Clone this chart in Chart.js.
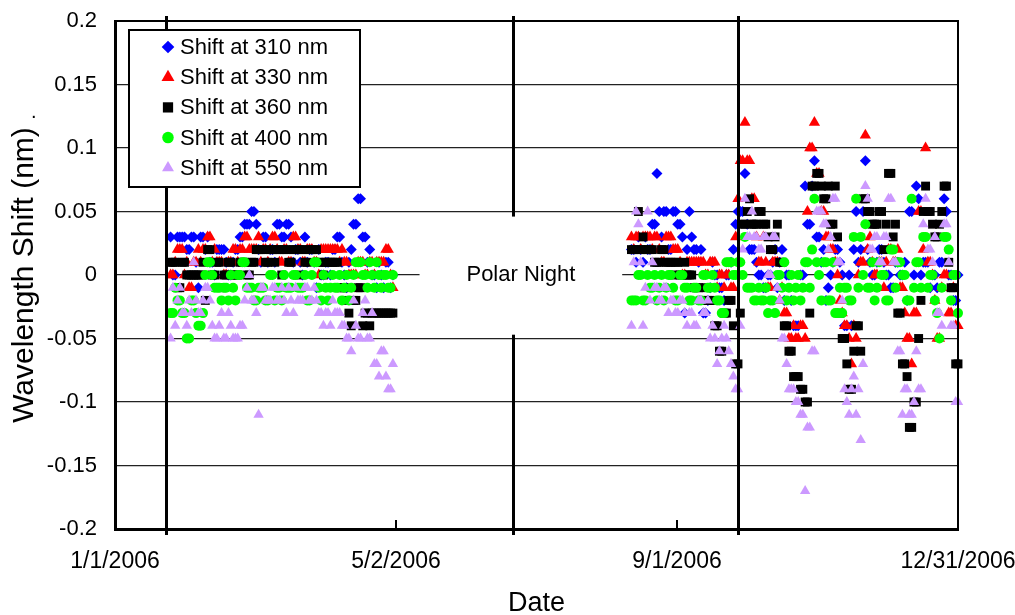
<!DOCTYPE html>
<html><head><meta charset="utf-8">
<script src="https://cdn.jsdelivr.net/npm/chart.js@4/dist/chart.umd.min.js"></script>
<style>html,body{margin:0;padding:0;background:#fff}#wrap{width:1015px;height:615px}</style>
</head><body><div id="wrap"><canvas id="c" width="1015" height="615"></canvas></div>
<script>
// Day of year 2006 (0 = 1/1/2006) -- even days
const days = [24,26,28,30,32,34,36,38,40,42,44,46,48,50,52,54,56,58,60,62,64,66,68,70,72,74,76,78,80,82,84,86,88,90,92,94,96,98,100,102,104,106,108,110,112,114,116,118,120,
224,226,228,230,232,234,236,238,240,242,244,246,248,250,252,254,256,258,260,262,264,266,268,270,272,274,276,278,280,282,284,286,288,290,292,294,296,298,300,302,304,306,308,310,312,314,316,318,320,322,324,326,328,330,332,334,336,338,340,342,344,346,348,350,352,354,356,358,360,362,364];

const shift310 = [0.03,0.00,0.03,0.03,0.02,0.03,-0.01,0.03,0.03,0.01,0.02,0.02,0.01,0.00,0.02,0.03,0.04,0.04,0.05,0.02,0.03,0.01,0.02,0.04,0.03,0.04,0.03,0.02,0.01,0.03,0.02,0.01,0.02,0.00,0.01,0.02,0.03,0.01,-0.01,0.02,0.04,0.06,0.03,0.02,0.00,0.01,-0.01,0.01,0.00,
0.02,0.03,0.01,0.02,0.04,0.08,0.03,0.05,0.02,0.05,0.04,-0.03,0.05,0.02,0.01,-0.03,-0.02,0.01,0.00,-0.01,0.00,0.01,0.04,0.05,0.08,0.02,0.02,0.00,-0.01,0.00,0.01,-0.01,0.02,0.00,-0.02,-0.04,0.00,0.07,0.04,0.09,0.03,0.02,-0.01,0.01,0.02,0.00,-0.04,-0.04,0.05,0.02,0.09,0.01,0.00,0.02,0.01,0.00,-0.01,0.01,0.00,-0.02,0.05,0.07,0.00,0.01,-0.01,0.00,0.01,0.06,0.00,-0.02,0.00];

const shift330 = [0.00,0.01,0.02,0.00,-0.01,0.01,0.02,0.02,0.03,0.01,0.01,0.01,0.00,0.01,0.02,0.02,0.03,0.02,0.02,0.03,0.02,0.01,0.03,0.02,0.01,0.02,0.01,0.03,0.02,0.01,0.02,0.01,0.00,0.02,0.02,0.02,0.02,0.02,0.01,0.00,0.00,0.01,0.00,0.01,0.00,0.01,0.01,0.02,-0.01,
0.02,0.03,0.03,0.03,0.02,0.03,0.01,0.03,0.03,0.02,0.01,0.00,0.01,0.01,0.01,0.01,0.00,0.01,-0.01,0.00,0.00,-0.01,0.03,0.09,0.12,0.09,0.06,0.01,0.03,-0.01,0.01,0.01,-0.01,-0.03,-0.05,-0.05,-0.04,-0.05,0.10,0.12,0.08,0.05,0.03,0.02,0.00,-0.03,-0.04,-0.07,-0.05,0.01,0.11,0.03,0.00,0.01,-0.01,0.02,0.01,0.02,-0.01,-0.05,-0.07,-0.03,0.05,0.10,0.01,-0.02,-0.05,0.00,-0.03,-0.01,-0.04];

const shift360 = [0.01,0.01,-0.01,0.01,0.00,0.00,0.00,0.01,0.02,0.00,0.01,-0.01,0.00,0.01,0.00,0.01,0.01,0.00,0.01,0.02,0.02,0.01,0.02,0.02,0.00,0.02,0.01,0.02,0.02,0.01,0.02,0.02,0.01,0.00,0.01,0.01,0.01,-0.01,-0.02,-0.04,-0.02,-0.01,-0.03,-0.04,-0.03,-0.03,-0.03,-0.03,-0.03,
0.02,0.05,0.03,0.02,0.02,0.01,0.02,0.01,0.01,0.01,0.00,0.01,0.00,-0.01,-0.01,-0.02,-0.02,-0.02,-0.04,-0.06,-0.03,-0.02,-0.07,-0.03,0.04,0.06,0.04,0.05,0.04,0.03,0.02,0.04,0.01,-0.04,-0.06,-0.08,-0.09,-0.10,-0.03,0.07,0.08,0.06,0.07,0.04,0.03,-0.05,-0.07,-0.09,-0.04,-0.06,0.06,0.05,0.04,0.05,0.02,0.08,0.03,-0.03,-0.07,-0.08,-0.12,-0.10,-0.02,0.07,0.05,0.03,0.04,0.07,0.01,-0.01,-0.07];

const shift400 = [-0.03,-0.01,-0.02,-0.03,-0.05,-0.02,-0.04,-0.03,0.01,0.00,-0.01,-0.02,-0.01,0.00,-0.02,0.00,0.01,-0.01,-0.02,-0.01,-0.01,-0.02,0.00,-0.01,-0.02,-0.01,-0.01,0.00,-0.01,0.00,-0.02,0.01,-0.01,0.00,-0.02,0.00,-0.01,-0.02,0.00,-0.01,0.01,0.01,0.00,0.01,-0.01,0.00,0.00,-0.01,0.00,
-0.02,0.00,-0.02,0.00,-0.01,-0.02,0.00,-0.01,0.00,-0.02,0.00,-0.01,-0.02,-0.01,-0.02,0.00,-0.01,0.00,-0.02,-0.03,0.01,0.01,0.00,0.01,0.03,-0.01,-0.02,-0.01,-0.02,-0.03,-0.02,0.00,-0.01,-0.02,0.00,-0.01,-0.02,0.01,-0.01,0.06,0.00,0.01,-0.02,0.01,-0.03,-0.03,-0.01,-0.02,0.06,0.03,0.04,-0.01,-0.02,0.01,0.00,-0.02,0.02,0.01,0.00,-0.02,0.06,0.01,-0.01,0.03,0.00,-0.02,-0.05,0.03,0.02,0.00,-0.03];

const shift550 = [-0.05,-0.04,-0.01,-0.03,-0.02,0.01,-0.03,-0.02,-0.01,-0.04,-0.05,-0.03,-0.05,-0.04,-0.05,-0.04,-0.02,0.00,-0.02,-0.11,-0.01,-0.02,-0.01,-0.02,-0.01,-0.03,-0.02,-0.01,-0.02,-0.01,-0.02,-0.01,-0.03,-0.04,-0.03,-0.02,-0.03,-0.04,-0.05,-0.06,-0.04,-0.05,-0.02,-0.05,-0.07,-0.08,-0.06,-0.09,-0.07,
0.01,0.04,-0.04,0.05,0.01,-0.01,-0.02,-0.01,-0.02,-0.03,-0.02,-0.03,-0.03,-0.04,-0.02,-0.03,-0.02,-0.04,-0.07,-0.05,-0.05,-0.07,-0.09,-0.04,0.06,0.03,0.03,0.02,0.03,0.00,0.03,-0.01,-0.05,-0.07,-0.09,-0.10,-0.11,-0.17,-0.12,-0.06,0.05,0.04,0.02,0.06,0.01,-0.02,-0.10,-0.09,-0.11,-0.13,0.07,0.02,0.03,0.01,0.03,0.06,0.01,-0.06,-0.11,-0.09,-0.11,-0.06,-0.09,0.06,0.02,0.03,-0.03,0.04,0.01,-0.04,-0.10];

// Odd days
const daysOdd = [25,27,29,31,33,35,37,39,41,43,45,47,49,51,53,55,57,59,61,63,65,67,69,71,73,75,77,79,81,83,85,87,89,91,93,95,97,99,101,103,105,107,109,111,113,115,117,119,
223,225,227,229,231,233,235,237,239,241,243,245,247,249,251,253,255,257,259,261,263,265,267,269,271,273,275,277,279,281,283,285,287,289,291,293,295,297,299,301,303,305,307,309,311,313,315,317,319,321,323,325,327,329,331,333,335,337,339,341,343,345,347,349,351,353,355,357,359,361,363];

const shift310Odd = [0.00,0.03,0.03,0.02,0.03,0.01,0.03,0.02,0.01,0.00,0.02,0.02,0.00,0.01,0.02,0.03,0.04,0.05,0.04,0.01,0.03,0.02,0.01,0.04,0.03,0.04,0.01,0.02,0.00,0.01,0.02,-0.01,0.00,0.01,0.00,0.02,0.03,0.00,0.01,0.04,0.06,0.03,0.01,0.00,-0.01,0.00,0.01,-0.01,
0.02,0.01,0.02,0.03,0.02,0.04,0.05,0.05,0.02,0.05,0.04,0.03,0.02,0.03,0.02,0.02,-0.03,-0.01,0.00,-0.01,-0.02,0.00,0.02,0.05,0.05,0.04,0.02,0.01,0.00,-0.01,0.00,0.02,0.01,-0.02,0.00,-0.04,-0.04,0.00,0.04,0.07,0.03,0.01,-0.02,0.00,0.02,0.01,-0.04,0.00,0.02,0.01,0.05,0.02,0.00,0.01,0.02,0.00,-0.01,0.01,0.00,0.01,0.05,0.00,0.06,0.01,0.01,0.00,-0.01,0.01,0.05,0.00,-0.02];

const shift330Odd = [0.00,0.02,0.02,0.01,-0.01,0.01,0.01,0.02,0.03,0.02,0.01,0.00,0.01,0.02,0.01,0.02,0.03,0.02,0.02,0.01,0.02,0.02,0.03,0.01,0.02,0.01,0.03,0.02,0.01,0.02,0.02,0.01,0.02,0.02,0.02,0.02,0.01,0.01,0.00,0.00,0.01,0.01,0.00,0.01,0.01,0.01,0.02,0.00,
0.03,0.03,0.02,0.03,0.03,0.03,0.02,0.01,0.03,0.02,0.02,0.00,0.01,0.01,0.01,0.01,0.00,0.01,0.01,0.00,-0.01,0.00,-0.01,0.06,0.09,0.09,0.06,0.03,0.01,0.01,-0.01,0.01,-0.02,-0.03,-0.05,-0.04,-0.05,-0.04,0.05,0.10,0.08,0.05,0.03,0.02,0.01,-0.02,-0.04,-0.05,-0.04,0.00,0.01,0.02,0.01,0.00,0.01,0.01,0.02,0.01,-0.01,-0.03,-0.05,-0.03,0.05,0.02,0.01,0.00,-0.05,-0.01,0.00,-0.03,-0.04];

const shift360Odd = [0.01,-0.01,0.01,0.00,0.00,0.00,0.00,-0.02,0.02,0.00,0.01,0.00,0.01,0.00,0.00,0.01,0.00,0.01,0.02,0.02,0.01,0.02,0.01,0.02,0.02,0.01,0.02,0.00,0.02,0.01,0.02,0.02,0.01,0.01,0.01,0.01,-0.01,-0.01,-0.03,-0.02,-0.01,-0.04,-0.03,-0.03,-0.03,-0.03,-0.03,-0.03,
0.02,0.02,0.02,0.02,0.02,0.01,0.01,0.02,0.01,0.00,0.01,0.00,0.00,0.00,-0.01,-0.02,-0.01,-0.02,-0.04,-0.06,-0.03,-0.02,-0.04,-0.07,0.04,0.05,0.04,0.04,0.05,0.04,0.02,0.03,0.01,-0.04,-0.06,-0.08,-0.08,-0.09,-0.10,0.07,0.08,0.07,0.06,0.04,0.07,-0.03,-0.05,-0.09,-0.06,-0.04,0.06,0.05,0.04,0.04,0.05,0.04,0.08,0.04,-0.03,-0.07,-0.12,-0.10,-0.05,0.05,0.05,0.04,0.03,0.05,0.07,-0.01,-0.07];

const shift400Odd = [-0.03,-0.02,-0.03,-0.05,-0.02,-0.03,-0.04,0.00,0.01,-0.01,-0.01,-0.01,-0.02,-0.01,0.00,0.01,-0.01,-0.01,-0.02,-0.01,-0.02,0.00,-0.02,-0.01,0.00,-0.01,0.00,-0.01,-0.01,-0.02,0.00,0.01,-0.02,-0.01,-0.01,-0.01,0.00,-0.01,-0.02,0.00,0.01,0.00,-0.01,0.00,0.01,-0.01,0.00,-0.01,
-0.02,-0.02,0.00,-0.02,-0.01,0.00,-0.01,-0.02,0.00,-0.01,-0.02,0.00,-0.01,-0.02,-0.01,-0.02,0.00,-0.01,-0.01,-0.02,-0.03,0.01,0.00,0.01,0.00,-0.01,-0.01,-0.02,-0.02,-0.01,-0.02,-0.03,0.00,0.01,-0.01,-0.02,0.00,-0.01,0.01,0.02,0.01,-0.02,0.01,-0.02,-0.03,-0.01,-0.01,-0.02,0.03,-0.01,0.00,-0.01,0.01,-0.01,0.00,-0.02,0.02,-0.01,0.01,0.00,-0.02,-0.01,0.01,0.03,-0.01,0.00,-0.03,-0.01,0.03,-0.02,0.00];

const shift550Odd = [-0.01,-0.02,-0.03,-0.04,-0.03,-0.02,-0.03,-0.01,-0.02,-0.05,-0.04,-0.05,-0.03,-0.05,-0.05,-0.04,-0.01,-0.02,-0.03,-0.01,-0.02,-0.02,-0.01,-0.02,-0.02,-0.01,-0.03,-0.02,-0.02,-0.01,-0.02,-0.02,-0.03,-0.03,-0.04,-0.03,-0.03,-0.04,-0.05,-0.02,-0.05,-0.03,-0.05,-0.03,-0.07,-0.06,-0.08,-0.09,
-0.04,0.05,0.01,-0.01,-0.02,-0.01,-0.02,-0.01,-0.03,-0.02,-0.03,-0.02,-0.04,-0.03,-0.04,-0.02,-0.03,-0.05,-0.05,-0.06,-0.04,-0.06,-0.08,-0.09,0.02,0.03,0.05,0.03,0.02,0.03,0.00,0.03,-0.02,-0.05,-0.09,-0.09,-0.10,-0.11,-0.12,-0.06,0.05,0.05,0.04,0.03,0.06,0.01,-0.09,-0.11,-0.08,-0.09,-0.07,0.06,0.02,0.03,0.01,0.03,0.06,0.01,-0.06,-0.09,-0.11,-0.10,-0.09,0.04,0.02,0.01,-0.03,-0.04,0.04,-0.04,-0.10];

const seriesNames = ['Shift at 310 nm','Shift at 330 nm','Shift at 360 nm','Shift at 400 nm','Shift at 550 nm'];
const tickDays = [0, 121.333, 242.667, 364];
const tickLabels = ['1/1/2006','5/2/2006','9/1/2006','12/31/2006'];
const markerDays = [22, 172, 269];
const polarBox = {from: 131.5, to: 219, top: 0.046, bottom: -0.047, label: 'Polar Night'};

const FONT = '"Liberation Sans", Arial, sans-serif';
const styles = [
  {color:'#0000FF', pointStyle:'rectRot', radius:5.5},
  {color:'#FF0000', pointStyle:'triangle', radius:6.5},
  {color:'#000000', pointStyle:'rect', radius:6.3},
  {color:'#00FF00', pointStyle:'circle', radius:5},
  {color:'#CC99FF', pointStyle:'triangle', radius:6}
];
const evenSeries = [shift310, shift330, shift360, shift400, shift550];
const oddSeries = [shift310Odd, shift330Odd, shift360Odd, shift400Odd, shift550Odd];

const datasets = evenSeries.map((vals, i) => ({
  label: seriesNames[i],
  data: days.map((d, k) => ({x: d, y: vals[k]}))
    .concat(daysOdd.map((d, k) => ({x: d, y: oddSeries[i][k]})))
    .sort((p, q) => p.x - q.x),
  showLine: false,
  pointStyle: styles[i].pointStyle,
  pointRadius: styles[i].radius,
  pointBackgroundColor: styles[i].color,
  pointBorderColor: styles[i].color,
  pointBorderWidth: 0,
  order: 5 - i,
  clip: false
}));

const overlay = {
  id: 'overlay',
  afterDatasetsDraw(chart) {
    const {ctx, chartArea: a, scales: {x, y}} = chart;
    ctx.save();
    ctx.strokeStyle = '#000';
    ctx.lineWidth = 2;
    ctx.beginPath();
    ctx.moveTo(a.left, a.top); ctx.lineTo(a.right, a.top); ctx.lineTo(a.right, a.bottom);
    ctx.stroke();
    tickDays.forEach(d => {
      const px = x.getPixelForValue(d);
      ctx.beginPath(); ctx.moveTo(px, a.bottom); ctx.lineTo(px, a.bottom - 9); ctx.stroke();
    });
    ctx.lineWidth = 3;
    markerDays.forEach(d => {
      const px = Math.round(x.getPixelForValue(d)) + 0.5;
      ctx.beginPath(); ctx.moveTo(px, a.top - 5); ctx.lineTo(px, a.bottom + 6); ctx.stroke();
    });
    const bx1 = x.getPixelForValue(polarBox.from), bx2 = x.getPixelForValue(polarBox.to);
    const by1 = y.getPixelForValue(polarBox.top), by2 = y.getPixelForValue(polarBox.bottom);
    ctx.fillStyle = '#fff';
    ctx.fillRect(bx1, by1, bx2 - bx1, by2 - by1);
    ctx.fillStyle = '#000';
    ctx.font = '22px ' + FONT;
    ctx.textAlign = 'center'; ctx.textBaseline = 'middle';
    ctx.fillText(polarBox.label, (bx1 + bx2) / 2, y.getPixelForValue(0));
    // legend
    const lx = a.left + 14, ly = a.top + 9, lw = 231, lh = 157;
    ctx.fillStyle = '#fff';
    ctx.fillRect(lx, ly, lw, lh);
    ctx.lineWidth = 2;
    ctx.strokeRect(lx, ly, lw, lh);
    ctx.font = '22px ' + FONT;
    ctx.textAlign = 'left';
    seriesNames.forEach((name, i) => {
      const ry = ly + 17 + i * 30.2;
      ctx.fillStyle = styles[i].color;
      Chart.helpers.drawPoint(ctx, {pointStyle: styles[i].pointStyle, radius: styles[i].radius * 1.15, rotation: 0, borderWidth: 0}, lx + 39, ry);
      ctx.fillStyle = '#000';
      ctx.fillText(name, lx + 51, ry + 1);
    });
    ctx.font = '20px ' + FONT;
    ctx.fillText('.', 31, 112);
    ctx.restore();
  }
};

new Chart(document.getElementById('c'), {
  type: 'scatter',
  data: {datasets},
  plugins: [overlay],
  options: {
    responsive: false,
    devicePixelRatio: 1,
    animation: false,
    layout: {padding: {left: 0, right: 57, top: 21, bottom: 0}},
    plugins: {legend: {display: false}, tooltip: {enabled: false}},
    scales: {
      x: {
        type: 'linear', min: 0, max: 364,
        afterBuildTicks: s => { s.ticks = tickDays.map(v => ({value: v})); },
        afterFit: s => { s.height = 86; s.paddingLeft = 0; s.paddingRight = 0; },
        ticks: {
          autoSkip: false, maxRotation: 0, minRotation: 0, padding: 19, color: '#000',
          font: {family: FONT, size: 23},
          callback: (v, i) => tickLabels[i]
        },
        grid: {display: false, drawTicks: false, tickLength: 0},
        border: {display: true, color: '#000', width: 3},
        title: {display: true, text: 'Date', color: '#000', font: {family: FONT, size: 27}, padding: {top: 0, bottom: -5}}
      },
      y: {
        min: -0.2, max: 0.2,
        afterFit: s => { s.width = 115; s.paddingTop = 0; s.paddingBottom = 0; },
        ticks: {
          stepSize: 0.05, padding: 18, color: '#000',
          font: {family: FONT, size: 22},
          callback: v => String(parseFloat(Number(v).toFixed(2)))
        },
        grid: {color: '#222', lineWidth: 1.3, drawTicks: false},
        border: {display: true, color: '#000', width: 3},
        title: {display: true, text: 'Wavelength Shift (nm)', color: '#000', font: {family: FONT, size: 30}, padding: {top: 7, bottom: 0}}
      }
    }
  }
});
</script>
</body></html>
